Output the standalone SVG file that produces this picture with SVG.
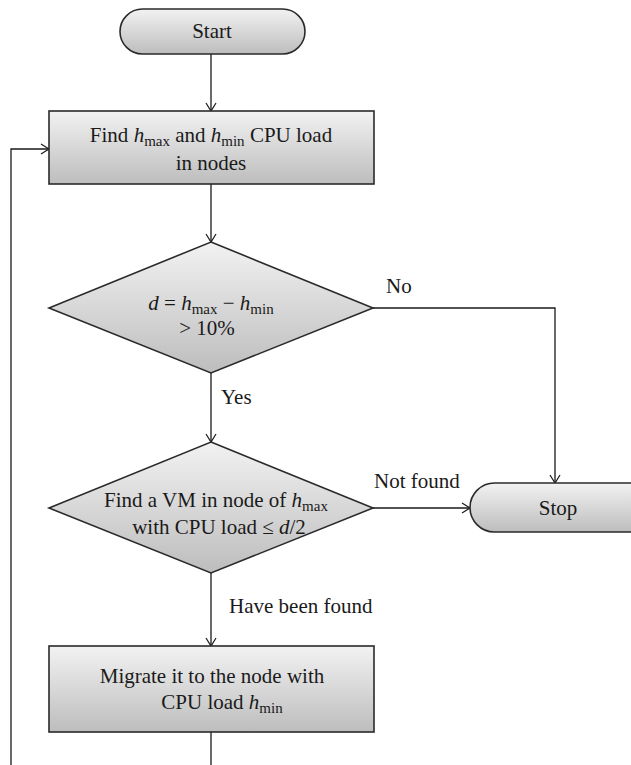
<svg xmlns="http://www.w3.org/2000/svg" width="631" height="765" viewBox="0 0 631 765">
<style>
.shape{stroke:#2a2a2a;stroke-width:1.6;fill:url(#g)}
.t{font-family:"Liberation Serif","Times New Roman",serif;font-size:21px;fill:#1a1a1a;text-anchor:middle}
.l{font-family:"Liberation Serif","Times New Roman",serif;font-size:21px;fill:#1a1a1a}
.i{font-style:italic}
.s{font-size:15px}
.c{fill:none;stroke:#1a1a1a;stroke-width:1.3}
</style>
<defs>
<linearGradient id="g" x1="0" y1="0" x2="0" y2="1">
<stop offset="0" stop-color="#f2f2f2"/>
<stop offset="1" stop-color="#bdbdbd"/>
</linearGradient>
<marker id="a" markerWidth="12" markerHeight="12" refX="10" refY="6" orient="auto" markerUnits="userSpaceOnUse">
<path d="M2,1 L10,6 L2,11" fill="none" stroke="#1a1a1a" stroke-width="1.2"/>
</marker>
</defs>
<g id="connectors">
<line class="c" x1="211" y1="54" x2="211" y2="111" marker-end="url(#a)"/>
<line class="c" x1="211" y1="184" x2="211" y2="242" marker-end="url(#a)"/>
<line class="c" x1="211" y1="373" x2="211" y2="442" marker-end="url(#a)"/>
<polyline class="c" points="373,308 555,308 555,483" marker-end="url(#a)"/>
<line class="c" x1="373" y1="508" x2="470" y2="508" marker-end="url(#a)"/>
<line class="c" x1="211" y1="573" x2="211" y2="646" marker-end="url(#a)"/>
<line class="c" x1="211" y1="732" x2="211" y2="765"/>
<polyline class="c" points="11,765 11,149 49,149" marker-end="url(#a)"/>
<text class="l" x="386" y="293">No</text>
<text class="l" x="221" y="404">Yes</text>
<text class="l" x="374" y="488">Not found</text>
<text class="l" x="229" y="613">Have been found</text>
</g>
<g id="start">
<rect class="shape" x="120" y="9" width="185" height="45" rx="22.5"/>
<text class="t" x="212" y="38">Start</text>
</g>
<g id="find">
<rect class="shape" x="49" y="111" width="325" height="73"/>
<text class="t" x="211" y="142">Find <tspan class="i">h</tspan><tspan class="s" dy="4">max</tspan><tspan dy="-4"> and </tspan><tspan class="i">h</tspan><tspan class="s" dy="4">min</tspan><tspan dy="-4"> CPU load</tspan></text>
<text class="t" x="211" y="170">in nodes</text>
</g>
<g id="decision1">
<polygon class="shape" points="211,242 373,308 211,373 49,308"/>
<text class="t" x="211" y="310"><tspan class="i">d</tspan> = <tspan class="i">h</tspan><tspan class="s" dy="4">max</tspan><tspan dy="-4"> − </tspan><tspan class="i">h</tspan><tspan class="s" dy="4">min</tspan></text>
<text class="t" x="207" y="335">&gt; 10%</text>
</g>
<g id="decision2">
<polygon class="shape" points="211,442 373,508 211,573 49,508"/>
<text class="t" x="216" y="507">Find a VM in node of <tspan class="i">h</tspan><tspan class="s" dy="4">max</tspan></text>
<text class="t" x="219" y="534">with CPU load ≤ <tspan class="i">d</tspan>/2</text>
</g>
<g id="stop">
<rect class="shape" x="470" y="483" width="190" height="49" rx="24.5"/>
<text class="t" x="558" y="515">Stop</text>
</g>
<g id="migrate">
<rect class="shape" x="49" y="646" width="325" height="86"/>
<text class="t" x="212" y="683">Migrate it to the node with</text>
<text class="t" x="222" y="709">CPU load <tspan class="i">h</tspan><tspan class="s" dy="4">min</tspan></text>
</g>
</svg>
